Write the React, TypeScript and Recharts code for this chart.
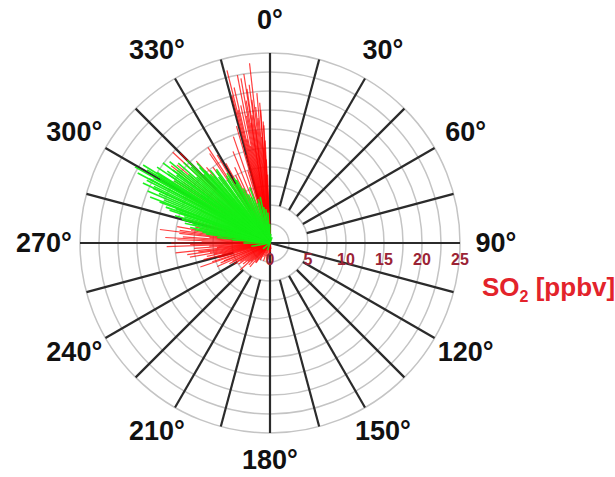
import { PolarAngleAxis, PolarGrid, PolarRadiusAxis, Radar, RadarChart } from 'recharts';

// layout
const W = 615;
const H = 477;
const CX = 270;
const CY = 243;
const R = 190;
const SO2_MAX = 25;

// grid
const spokeDirs = [0, 15, 30, 45, 60, 75, 90, 105, 120, 135, 150, 165, 180, 195, 210, 225, 240, 255, 270, 285, 300, 315, 330, 345];
const spokeFrom = [0, 5, 5, 5, 5, 5, 0, 0, 5, 5, 5, 5, 0, 5, 5, 5, 5, 5, 0, 5, 5, 5, 5, 5];
const angleTicks = [0, 30, 60, 90, 120, 150, 180, 210, 240, 270, 300, 330];
const ringLevels = [2.5, 5, 7.5, 10, 12.5, 15, 17.5, 20, 22.5, 25];
const radiusTicks = [0, 5, 10, 15, 20, 25];

// wind direction (deg) and SO2 (ppbv), red sticks
const redDir = [
  344, 345, 345.5, 346, 346.5, 347, 347.5, 348, 348.5, 349, 349.5, 350, 350.5, 351, 351.2, 351.5, 352, 352.5, 352.8, 353,
  353.5, 354, 354.5, 355, 355.5, 355.8, 356, 356.5, 356.8, 357, 357.3, 357.5, 358, 358.5, 359,
  288, 286, 284, 282, 280, 279, 278, 277, 276, 275, 274, 273, 272, 271, 270, 269, 268, 267, 266, 265, 264, 263, 262, 261,
  260, 259, 258, 257, 256, 255, 254, 252, 251, 249, 248, 246, 244, 243, 241, 240, 238, 236, 234, 232, 230, 228, 226, 224,
  222, 220, 217, 215, 212, 210, 205, 200, 195, 187, 183, 178, 170,
  295, 298, 300, 303, 305, 308, 310, 313, 315, 318, 320, 323, 326, 327, 329, 331, 333, 335, 338, 341, 343,
];
const redSO2 = [
  16, 12, 20, 23.4, 18, 21, 14, 18.5, 13, 22.5, 17, 22, 19, 16, 22.5, 20.5, 17, 21, 19, 15,
  23.8, 18, 16.5, 19.8, 14, 18.5, 17.5, 12.5, 16, 15.5, 13.5, 11, 9, 4, 3,
  8, 11, 9, 10, 12.4, 10.5, 12, 14.6, 12, 8, 11.5, 13.8, 12.2, 9, 13, 10.5, 13.6, 8, 10, 7, 12.5, 9.5, 11, 8,
  10.7, 7.5, 8.5, 6.5, 9, 7.2, 7, 8, 9.7, 6.5, 7, 7.6, 5.5, 6, 5, 5.5, 4.6, 5, 4, 4.5, 3.8, 5.3, 3.5, 4,
  3, 4.1, 3.2, 3.2, 2.4, 2.6, 2, 2.5, 1.8, 2.2, 1.5, 1.2, 0.8,
  10, 13, 12, 15, 14, 16.5, 16, 17.5, 16.7, 14.5, 13, 12.5, 14.2, 15, 13.5, 12, 10, 11, 13, 14.8, 10,
];

// green sticks
const greenDir = [
  276, 278, 279, 280, 281, 282, 283, 284, 285, 286, 287, 288, 288.4, 289, 290, 290.4, 291, 292, 293, 294,
  295, 295.3, 296, 297, 297.9, 298, 299, 299.4, 300, 300.7, 301, 301.6, 302, 303, 303.9, 304, 305, 306, 306.8, 307,
  308, 309, 310, 311, 312, 313, 314, 315, 316, 317, 317.6, 318, 319, 320, 320.6, 322, 323, 324, 326, 327,
  328.4, 330, 331, 332, 334, 336, 338, 340, 343, 345, 348, 350, 353, 356, 359, 5, 20, 200, 230, 260,
  270, 275, 285, 290, 300, 305, 310, 315, 320,
];
const greenSO2 = [
  7, 8.5, 9, 10, 10.7, 9.5, 11.5, 10.5, 12, 13, 11.8, 13.9, 12.5, 14.5, 13.2, 15.5, 16.9, 15, 17.5, 16,
  17, 18.5, 17, 18.2, 19.7, 18, 17.4, 20.4, 16.7, 18.8, 17.2, 19.6, 17.5, 15, 17.9, 16.2, 16.5, 15.2, 17.6, 16,
  15.5, 17, 14, 16, 13, 15.5, 14.4, 15.4, 12.5, 13.6, 14.2, 12.8, 12, 11.5, 12.4, 11, 11.8, 12, 10, 10.5,
  10.8, 9, 9.8, 9.4, 8, 7, 6.5, 7.8, 5.5, 6, 6.2, 4.8, 4.5, 4, 2.5, 1.2, 0.8, 1, 1.2, 2.5,
  3.5, 5, 6, 6.5, 8, 11, 9, 10, 7,
];

const chartData = [
  ...spokeDirs.map((dir, i) => ({ dir, spoke: SO2_MAX, from: spokeFrom[i] })),
  ...redDir.map((dir, i) => ({ dir, red: redSO2[i] })),
  ...greenDir.map((dir, i) => ({ dir, green: greenSO2[i] })),
];

const FONT = "'Liberation Sans', Arial, sans-serif";

// draws one line per point, from the centre (or from `from` ppbv) out to the point
function Sticks(props: any) {
  const { points, stroke, strokeWidth, strokeOpacity } = props;
  return (
    <g>
      {points
        .filter((p: any) => Number.isFinite(p.x) && Number.isFinite(p.y))
        .map((p: any, i: number) => {
          const from = p.payload?.from ?? 0;
          const k = p.value ? from / p.value : 0;
          return (
            <line
              key={i}
              x1={p.cx + (p.x - p.cx) * k}
              y1={p.cy + (p.y - p.cy) * k}
              x2={p.x}
              y2={p.y}
              stroke={stroke}
              strokeWidth={strokeWidth}
              strokeOpacity={strokeOpacity}
            />
          );
        })}
    </g>
  );
}

function AngleTick(props: any) {
  const { payload } = props;
  const v = Math.round(payload.value);
  if (!angleTicks.includes(v)) return <g />;
  const a = (payload.coordinate * Math.PI) / 180;
  const cos = Math.cos(a);
  const sin = Math.sin(a);
  const ry = sin > 0 ? 223 : 217;
  return (
    <text
      x={CX + 226 * cos}
      y={CY - ry * sin}
      textAnchor="middle"
      dominantBaseline="central"
      fontSize={27}
      fontWeight="bold"
      fontFamily={FONT}
      fill="#111"
    >
      {`${v}°`}
    </text>
  );
}

function RadiusTick(props: any) {
  const { x, y, payload } = props;
  return (
    <text
      x={x}
      y={y + 16}
      textAnchor="middle"
      dominantBaseline="central"
      fontSize={16}
      fontWeight="bold"
      fontFamily={FONT}
      fill="#9b2335"
    >
      {payload.value}
    </text>
  );
}

export default function App() {
  return (
    <div style={{ position: 'absolute', left: 0, top: 0, width: W, height: H, background: '#fff' }}>
      <RadarChart
        width={W}
        height={H}
        data={chartData}
        cx={CX}
        cy={CY}
        outerRadius={R}
        margin={{ top: 0, right: 0, bottom: 0, left: 0 }}
      >
        <PolarGrid
          gridType="circle"
          radialLines={false}
          polarRadius={ringLevels.map((v) => (v / SO2_MAX) * R)}
          stroke="#c4c4c4"
          strokeWidth={1.5}
        />
        <PolarAngleAxis
          dataKey="dir"
          type="number"
          domain={[0, 360]}
          tickCount={13}
          axisLine={false}
          tickLine={false}
          tick={AngleTick}
        />
        <PolarRadiusAxis
          angle={0}
          type="number"
          domain={[0, SO2_MAX]}
          ticks={radiusTicks as any}
          tickCount={6}
          axisLine={false}
          tickLine={false}
          tick={RadiusTick}
        />
        <Radar
          dataKey="spoke"
          stroke="#2b2b2b"
          strokeWidth={2.2}
          fill="none"
          dot={false}
          isAnimationActive={false}
          shape={Sticks}
        />
        <Radar
          dataKey="red"
          stroke="#ff0000"
          strokeWidth={1.2}
          strokeOpacity={0.75}
          fill="none"
          dot={false}
          isAnimationActive={false}
          shape={Sticks}
        />
        <Radar
          dataKey="green"
          stroke="#14f014"
          strokeWidth={1.6}
          strokeOpacity={0.95}
          fill="none"
          dot={false}
          isAnimationActive={false}
          shape={Sticks}
        />
      </RadarChart>
      <div
        style={{
          position: 'absolute',
          left: 482,
          top: 272,
          color: '#e3232b',
          fontFamily: FONT,
          fontWeight: 'bold',
          fontSize: 26,
          whiteSpace: 'nowrap',
        }}
      >
        SO<sub style={{ fontSize: 16 }}>2</sub> [ppbv]
      </div>
    </div>
  );
}
